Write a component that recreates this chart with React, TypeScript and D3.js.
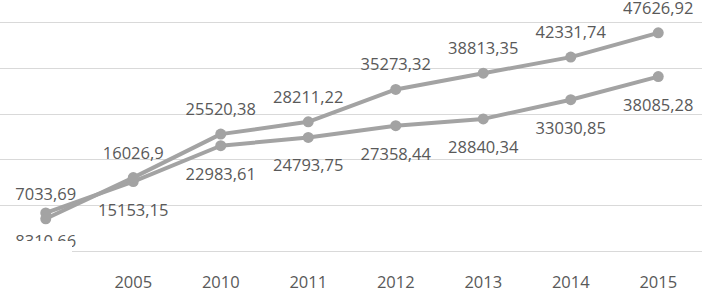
import React from "react";
import * as d3 from "d3";

const categories = ["", "2005", "2010", "2011", "2012", "2013", "2014", "2015"];
const seriesA = [7033.69, 16026.9, 25520.38, 28211.22, 35273.32, 38813.35, 42331.74, 47626.92];
const seriesB = [8310.66, 15153.15, 22983.61, 24793.75, 27358.44, 28840.34, 33030.85, 38085.28];
const yTicks = [0, 10000, 20000, 30000, 40000, 50000];

const W = 702;
const H = 290;
const fmt = (v: number) => String(v).replace(".", ",");

export default function App() {
  const x = d3.scaleBand<string>().domain(categories).range([2, 702]).padding(0);
  const cx = (i: number) => (x(categories[i]) as number) + x.bandwidth() / 2;
  const y = d3.scaleLinear().domain([0, 50000]).range([251, 22]);
  const line = d3
    .line<number>()
    .x((_, i) => cx(i))
    .y((d) => y(d));
  const color = "#a3a3a3";
  const textColor = "#595959";
  const font = "'Open Sans', sans-serif";

  return (
    <svg
      width={W}
      height={H}
      style={{ position: "absolute", left: 0, top: 0, background: "#fff" }}
      fontFamily={font}
    >
      {yTicks.map((t) => (
        <line
          key={t}
          x1={t === 0 ? 72 : 0}
          x2={W}
          y1={Math.round(y(t)) + 0.5}
          y2={Math.round(y(t)) + 0.5}
          stroke="#d9d9d9"
          strokeWidth={1}
        />
      ))}
      {[seriesB, seriesA].map((s, k) => (
        <g key={k}>
          <path d={line(s) || ""} fill="none" stroke={color} strokeWidth={4} strokeLinejoin="round" />
          {s.map((v, i) => (
            <circle key={i} cx={cx(i)} cy={y(v)} r={5.5} fill={color} />
          ))}
        </g>
      ))}
      {seriesA.map((v, i) => (
        <text
          key={"a" + i}
          x={cx(i)}
          y={y(v) - 19}
          textAnchor="middle"
          fontSize={16.5}
          fill={textColor}
        >
          {fmt(v)}
        </text>
      ))}
      {seriesB.map((v, i) => (
        <text
          key={"b" + i}
          x={cx(i)}
          y={y(v) + 34}
          textAnchor="middle"
          fontSize={16.5}
          fill={textColor}
        >
          {fmt(v)}
        </text>
      ))}
      <rect x={0} y={241} width={72} height={49} fill="#fff" />
      {categories.map((c, i) => (
        <text key={"c" + i} x={cx(i)} y={288} textAnchor="middle" fontSize={16.5} fill={textColor}>
          {c}
        </text>
      ))}
    </svg>
  );
}
